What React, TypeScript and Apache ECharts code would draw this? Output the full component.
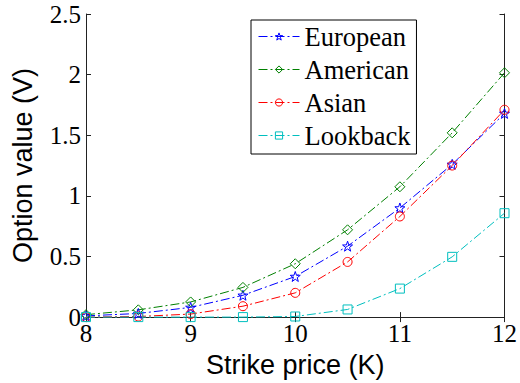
import React, { useEffect, useRef } from "react";
import * as echarts from "echarts";

const strikes = [8, 8.5, 9, 9.5, 10, 10.5, 11, 11.5, 12];
const european = [0.01, 0.03, 0.08, 0.18, 0.335, 0.585, 0.9, 1.26, 1.68];
const american = [0.02, 0.06, 0.125, 0.245, 0.44, 0.72, 1.075, 1.52, 2.015];
const asian = [0.0, 0.005, 0.025, 0.09, 0.2, 0.455, 0.83, 1.25, 1.71];
const lookback = [0.0, 0.0, 0.0, 0.0, 0.005, 0.063, 0.235, 0.497, 0.857];
const seriesNames = ["European", "American", "Asian", "Lookback"];
const xTicks = [8, 9, 10, 11, 12];
const yTicks = [0, 0.5, 1, 1.5, 2, 2.5];

const STAR =
  "path://M0,-10 L2.35,-3.24 L9.51,-3.09 L3.8,1.24 L5.88,8.09 L0,4 L-5.88,8.09 L-3.8,1.24 L-9.51,-3.09 L-2.35,-3.24Z";

export default function App() {
  const ref = useRef<HTMLDivElement>(null);
  useEffect(() => {
    if (!ref.current) return;
    const chart = echarts.init(ref.current, null, { renderer: "svg" });
    const serif = "Liberation Serif";
    const sans = "Liberation Sans";
    const dash = [9, 3, 2, 3];
    const clear = "rgba(255,255,255,0)";
    const mk = (name: string, data: number[], color: string, symbol: string, size: number) => ({
      name,
      type: "line",
      color,
      data: strikes.map((x, i) => [x, data[i]]),
      symbol,
      symbolSize: size,
      clip: false,
      lineStyle: { color, width: 1, type: dash },
      itemStyle: { color: clear, borderColor: color, borderWidth: 1 },
    });
    const vals = [european, american, asian, lookback];
    const colors = ["#0000ff", "#008000", "#ff0000", "#00bfbf"];
    const syms = [STAR, "diamond", "circle", "rect"];
    const sizes = [10, 10, 9, 9];
    const axisLine = { show: true, lineStyle: { color: "#222", width: 1 } };
    chart.setOption({
      animation: false,
      backgroundColor: "#fff",
      textStyle: { fontFamily: serif },
      grid: { left: 86, right: 13, top: 14, bottom: 62 },
      legend: {
        orient: "vertical",
        left: 251,
        top: 20,
        padding: [3, 6, 5, 7],
        itemGap: 6,
        itemWidth: 41,
        itemHeight: 9,
        borderColor: "#000",
        borderWidth: 1,
        backgroundColor: "#fff",
        textStyle: { fontFamily: serif, fontSize: 26.5, color: "#000" },
        data: seriesNames.map((n, i) => ({
          name: n,
          itemStyle: { color: clear, borderColor: colors[i], borderWidth: 1 },
          lineStyle: { color: colors[i], width: 1, type: dash },
        })),
      },
      xAxis: [
        {
          type: "value",
          min: xTicks[0],
          max: xTicks[xTicks.length - 1],
          interval: 1,
          name: "Strike price (K)",
          nameLocation: "middle",
          nameGap: 26,
          nameTextStyle: { fontFamily: sans, fontSize: 27, color: "#000" },
          axisLine,
          axisTick: { show: true, inside: true, length: 5, lineStyle: { color: "#222" } },
          axisLabel: { fontFamily: serif, fontSize: 25, color: "#000", margin: 4 },
          splitLine: { show: false },
        },
        {
          type: "value",
          position: "top",
          min: xTicks[0],
          max: xTicks[xTicks.length - 1],
          interval: 1,
          axisLine,
          axisTick: { show: true, inside: true, length: 5, lineStyle: { color: "#222" } },
          axisLabel: { show: false },
          splitLine: { show: false },
        },
      ],
      yAxis: [
        {
          type: "value",
          min: yTicks[0],
          max: yTicks[yTicks.length - 1],
          interval: 0.5,
          name: "Option value (V)",
          nameLocation: "middle",
          nameGap: 50,
          nameTextStyle: { fontFamily: sans, fontSize: 27, color: "#000" },
          axisLine,
          axisTick: { show: true, inside: true, length: 5, lineStyle: { color: "#222" } },
          axisLabel: { fontFamily: serif, fontSize: 25, color: "#000", margin: 5 },
          splitLine: { show: false },
        },
        {
          type: "value",
          position: "right",
          min: yTicks[0],
          max: yTicks[yTicks.length - 1],
          interval: 0.5,
          axisLine,
          axisTick: { show: true, inside: true, length: 5, lineStyle: { color: "#222" } },
          axisLabel: { show: false },
          splitLine: { show: false },
        },
      ],
      series: seriesNames.map((n, i) => mk(n, vals[i], colors[i], syms[i], sizes[i])),
    });
    return () => chart.dispose();
  }, []);
  return <div ref={ref} style={{ width: 520, height: 383, position: "absolute", left: 0, top: 0 }} />;
}
